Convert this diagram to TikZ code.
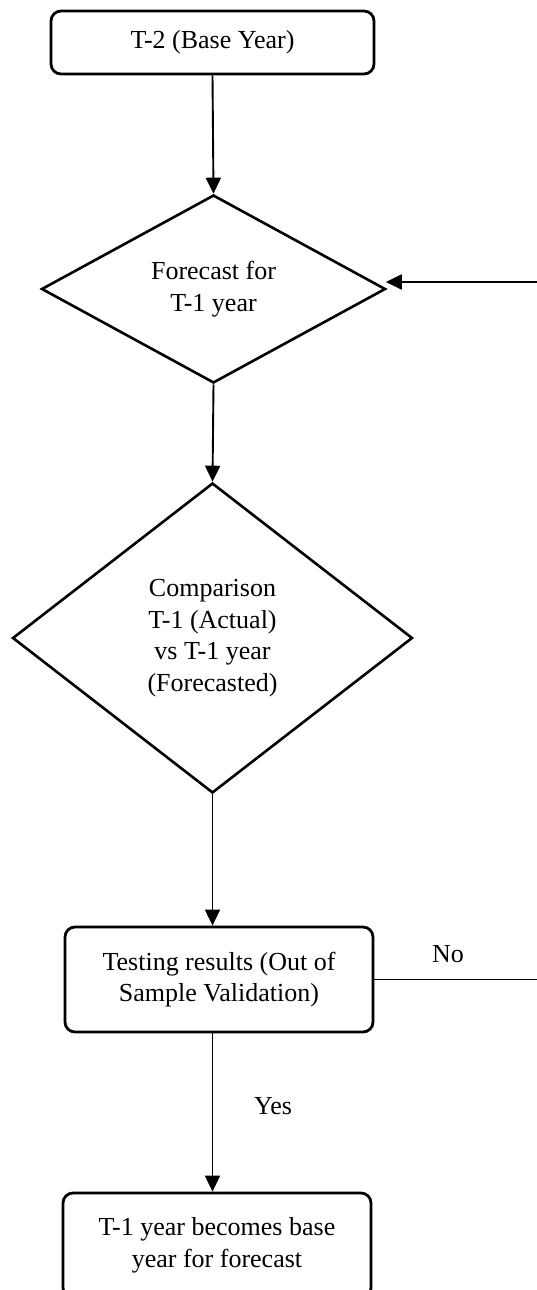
\documentclass[tikz,border=0pt]{standalone}
\usepackage{fontspec}
\setmainfont{Liberation Serif}
\usetikzlibrary{shapes.geometric,arrows.meta,calc}
\begin{document}
\begin{tikzpicture}[x=1pt,y=-1pt,
  every node/.style={font=\fontsize{26}{31.5}\selectfont, align=center},
  roundbox/.style={draw, line width=2.8pt, rounded corners=10pt, inner sep=0pt},
  decision/.style={draw, diamond, line width=2.6pt, inner sep=0pt},
  flow/.style={line width=1.9pt, -{Triangle[length=16pt,width=15pt]}},
  plain/.style={line width=1.9pt},
]
\useasboundingbox (0,0) rectangle (537,1290);
\clip (0,0) rectangle (537,1290);

% vertical axis shared by the downward connectors
\coordinate (axis) at (212.5,0);

% process boxes and decisions
\node[roundbox, minimum width=323pt, minimum height=63pt] (base) at (212.5,42.5) {T-2 (Base Year)};
\node[decision, shape aspect=1.8, minimum width=344pt, minimum height=188pt] (fc) at (213.5,289) {Forecast for\\T-1 year};
\node[decision, shape aspect=1.3, minimum width=400pt, minimum height=310pt] (cmp) at (212.5,638) {Comparison\\T-1 (Actual)\\vs T-1 year\\(Forecasted)};
\node[roundbox, minimum width=308pt, minimum height=105pt] (test) at (219,979.5) {Testing results (Out of\\Sample Validation)};
\node[roundbox, minimum width=308pt, minimum height=105pt] (newbase) at (217,1245.5) {T-1 year becomes base\\year for forecast};

% loop ends leaving the right edge
\coordinate (loopin) at (537,282);
\coordinate (loopout) at (537,979.5);

% connectors
\draw[flow] (base.south -| axis) -- (fc.north);
\draw[flow] (fc.south) -- (cmp.north);
\draw[flow] (cmp.south) -- (test.north -| axis);
\draw[flow] (test.south -| axis) -- (newbase.north -| axis);
\draw[flow] (loopin) -- ($(loopin -| fc.east)+(-1,0)$);
\draw[plain] (test.east) -- (loopout);

% branch labels
\node (nolabel) at (448,954.5) {No};
\node (yeslabel) at (273,1106.5) {Yes};
\end{tikzpicture}
\end{document}
